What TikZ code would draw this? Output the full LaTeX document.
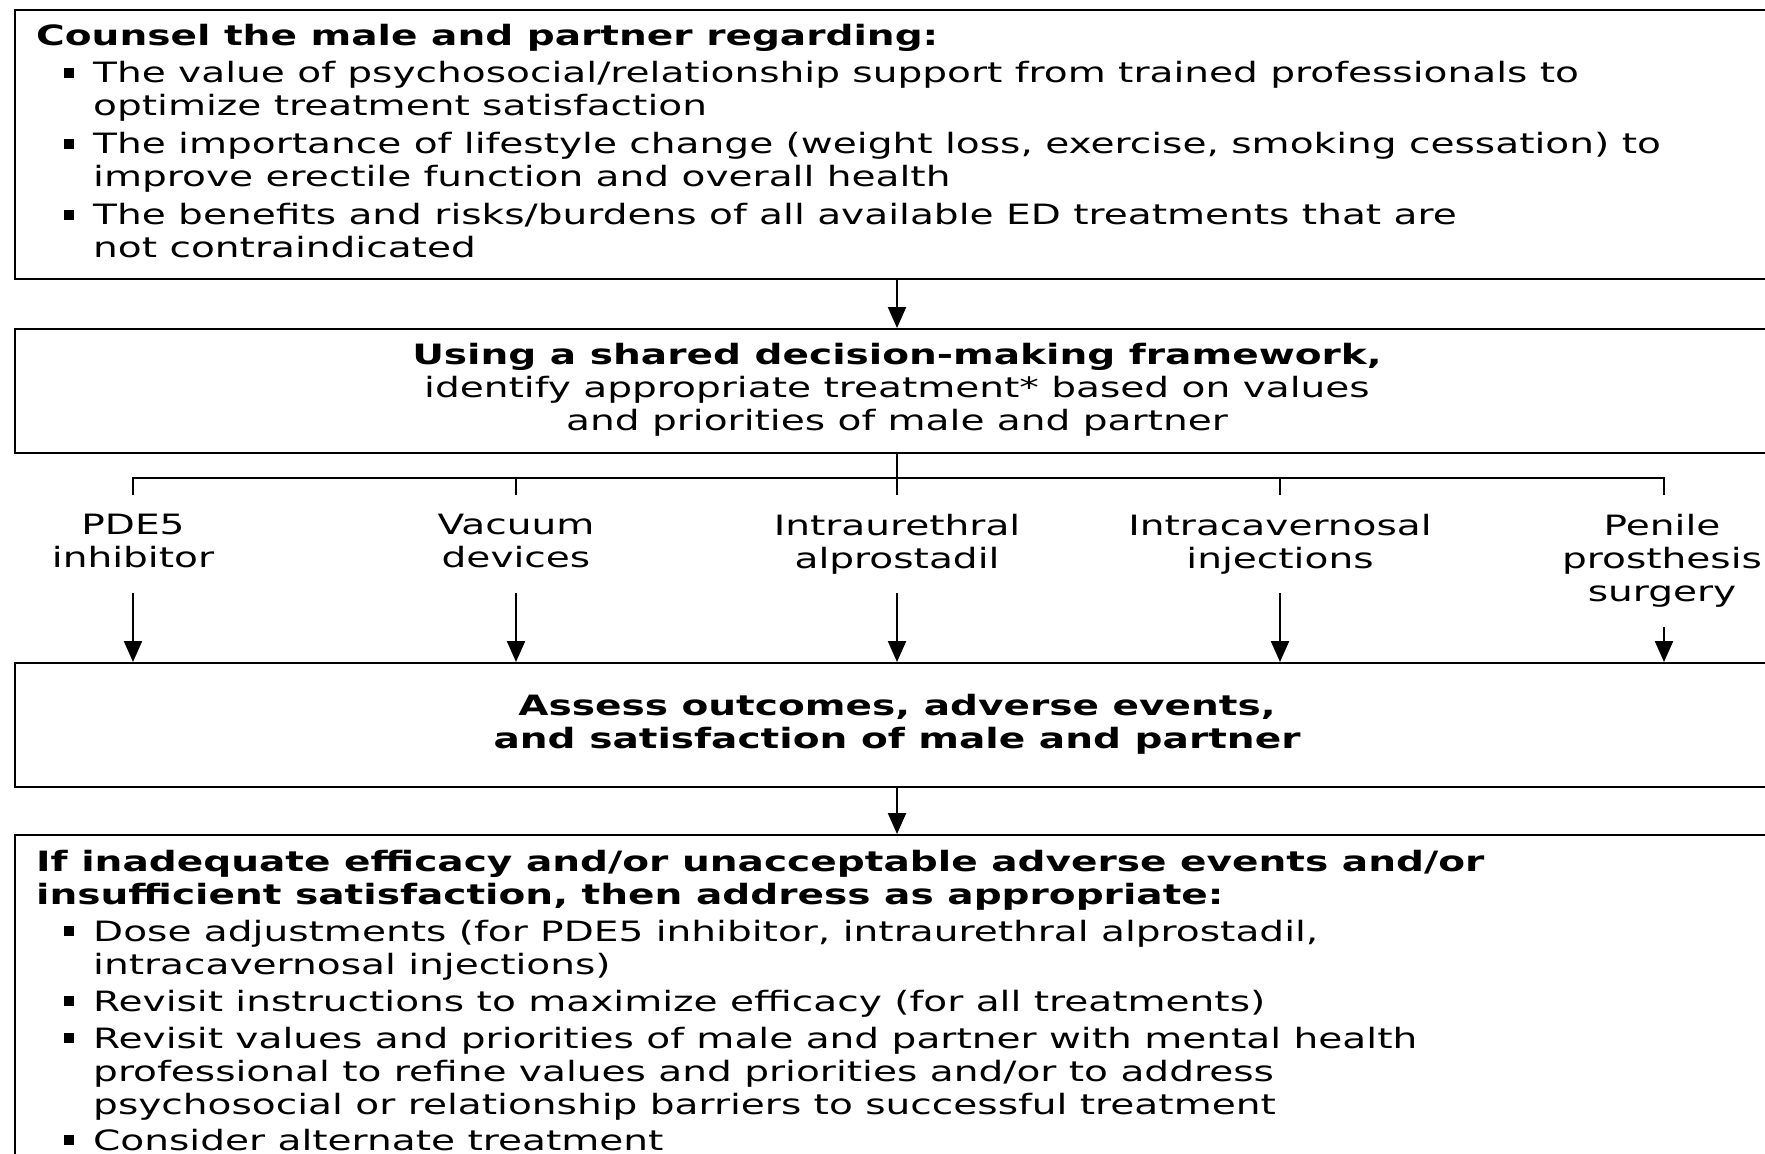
\documentclass[tikz,border=0pt]{standalone}
\usepackage{fontspec}
\setmainfont{DejaVu Sans}[FakeStretch=1.395]
\usetikzlibrary{arrows.meta}
\newcommand\bsq{\makebox[57pt][l]{\hspace{28pt}\raisebox{5pt}{\rule{10pt}{10pt}}}}
\newcommand\bind{\hspace*{57pt}}
\begin{document}
\begin{tikzpicture}[x=1pt,y=-1pt,
  boxst/.style={draw=black,line width=2.4pt,rectangle,inner sep=0pt,anchor=north west},
  txt/.style={inner sep=0pt,font=\fontsize{28}{33}\selectfont},
  lbl/.style={txt,align=center,anchor=north},
  conn/.style={line width=2.2pt},
  arr/.style={line width=2.2pt,-{Triangle[width=18pt,length=21pt]}}]
\useasboundingbox (0,0) rectangle (1765,1154);
\clip (0,0) rectangle (1765,1154);
% boxes
\node[boxst,minimum width=1800pt,minimum height=269pt] (b1) at (13.5,9) {};
\node[boxst,minimum width=1800pt,minimum height=124pt] (b2) at (13.5,328) {};
\node[boxst,minimum width=1800pt,minimum height=124pt] (b3) at (13.5,662) {};
\node[boxst,minimum width=1800pt,minimum height=400pt] (b4) at (13.5,834) {};
% texts
\node[txt,anchor=north west,align=left] (t1) at (36,24) {%
\textbf{Counsel the male and partner regarding:}\\[4.5pt]
\bsq The value of psychosocial/relationship support from trained professionals to\\
\bind optimize treatment satisfaction\\[5pt]
\bsq The importance of lifestyle change (weight loss, exercise, smoking cessation) to\\
\bind improve erectile function and overall health\\[5pt]
\bsq The benefits and risks/burdens of all available ED treatments that are\\
\bind not contraindicated};
\node[txt,anchor=north,align=center] (t2) at (897,343) {%
\textbf{Using a shared decision-making framework,}\\
identify appropriate treatment* based on values\\
and priorities of male and partner};
\node[txt,anchor=north,align=center] (t3) at (897,694) {%
\textbf{Assess outcomes, adverse events,}\\
\textbf{and satisfaction of male and partner}};
\node[txt,anchor=north west,align=left] (t4) at (36,850) {%
\textbf{If inadequate efficacy and/or unacceptable adverse events and/or}\\
\textbf{insufficient satisfaction, then address as appropriate:}\\[4pt]
\bsq Dose adjustments (for PDE5 inhibitor, intraurethral alprostadil,\\
\bind intracavernosal injections)\\[4pt]
\bsq Revisit instructions to maximize efficacy (for all treatments)\\[4pt]
\bsq Revisit values and priorities of male and partner with mental health\\
\bind professional to refine values and priorities and/or to address\\
\bind psychosocial or relationship barriers to successful treatment\\[3pt]
\bsq Consider alternate treatment};
% branch
\coordinate (j) at (897,478);
\coordinate (jl) at (133,478);
\coordinate (jr) at (1664,478);
\coordinate (d1) at (133,495);
\coordinate (d2) at (516,495);
\coordinate (d3) at (897,495);
\coordinate (d4) at (1280,495);
\coordinate (d5) at (1664,495);
\draw[conn] (b2.south -| j) -- (j);
\draw[conn] (d1) -- (jl) -- (jr) -- (d5);
\draw[conn] (d2) -- (d2 |- j);
\draw[conn] (d3) -- (d3 |- j);
\draw[conn] (d4) -- (d4 |- j);
% labels
\node[lbl] (l1) at (133,514) {PDE5\\inhibitor};
\node[lbl] (l2) at (516,514) {Vacuum\\devices};
\node[lbl] (l3) at (897,514) {Intraurethral\\alprostadil};
\node[lbl] (l4) at (1280,514) {Intracavernosal\\injections};
\node[lbl] (l5) at (1662,514) {Penile\\prosthesis\\surgery};
\coordinate (a1) at (133,593);
\coordinate (a2) at (516,593);
\coordinate (a3) at (897,593);
\coordinate (a4) at (1280,593);
\coordinate (a5) at (1664,627);
\draw[arr] (a1) -- (a1 |- b3.north);
\draw[arr] (a2) -- (a2 |- b3.north);
\draw[arr] (a3) -- (a3 |- b3.north);
\draw[arr] (a4) -- (a4 |- b3.north);
\draw[arr] (a5) -- (a5 |- b3.north);
\draw[arr] (b1.south -| j) -- (b2.north -| j);
\draw[arr] (b3.south -| j) -- (b4.north -| j);
\end{tikzpicture}
\end{document}
